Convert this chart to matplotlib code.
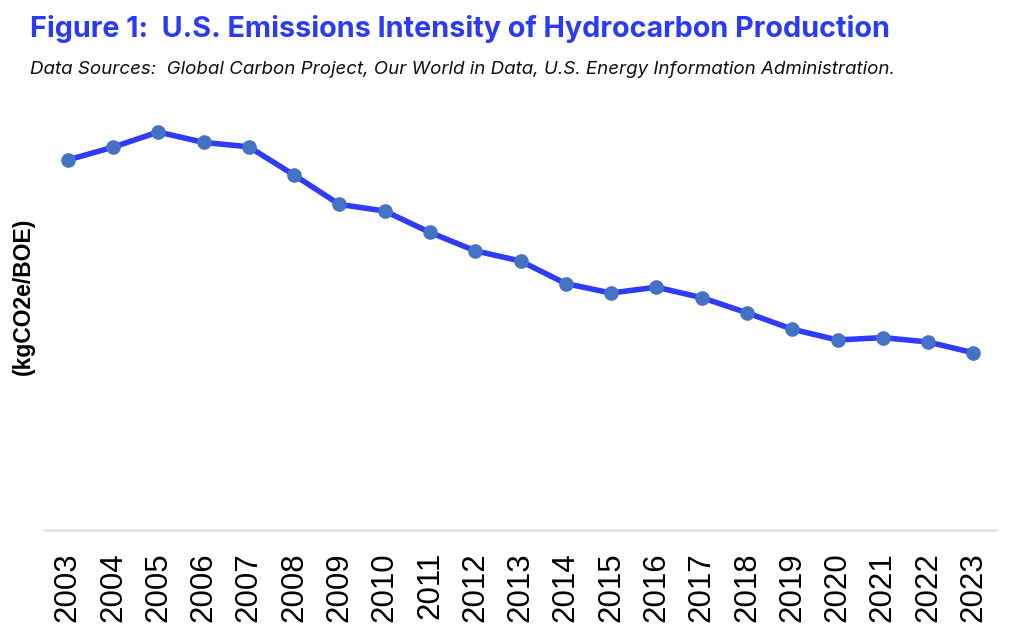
import matplotlib
matplotlib.use("Agg")
import matplotlib.pyplot as plt

years = ["2003", "2004", "2005", "2006", "2007", "2008", "2009", "2010", "2011", "2012",
         "2013", "2014", "2015", "2016", "2017", "2018", "2019", "2020", "2021", "2022", "2023"]
intensity = [92.5, 95.7, 99.5, 96.9, 95.8, 88.75, 81.4, 79.75, 74.4, 69.8,
             67.25, 61.6, 59.25, 60.7, 58.1, 54.3, 50.2, 47.5, 48.1, 47.0, 44.3]

title = "Figure 1:  U.S. Emissions Intensity of Hydrocarbon Production"
subtitle = "Data Sources:  Global Carbon Project, Our World in Data, U.S. Energy Information Administration."
ylabel = "(kgCO2e/BOE)"

W, H = 1024, 641
fig = plt.figure(figsize=(W / 100, H / 100), dpi=100)
ax = fig.add_axes([45 / W, (H - 530) / H, (996 - 45) / W, (530 - 110) / H])

x = list(range(len(years)))
ax.plot(x, intensity, color="#2E3CF8", linewidth=4.0, solid_capstyle="round",
        marker="o", markersize=9.5, markerfacecolor="#4472C4", markeredgecolor="#4472C4",
        zorder=3)

ax.set_xlim(-0.5, len(years) - 0.5)
ax.set_ylim(0, 105)
ax.set_xticks(x)
ax.set_xticklabels(years, rotation=90, fontsize=22.5, family="Liberation Sans")
ax.tick_params(axis="x", length=0, pad=16)
ax.set_yticks([])
for s in ["top", "right", "left"]:
    ax.spines[s].set_visible(False)
ax.spines["bottom"].set_color("#E3E3E3")
ax.spines["bottom"].set_linewidth(2)

fig.text(30 / W, 1 - 29 / H, title, color="#2B3BF5", fontsize=20.7, fontweight="bold",
         family="Inter", va="center", ha="left")
fig.text(30 / W, 1 - 70 / H, subtitle, color="#111111", fontsize=13.5, style="italic",
         family="Inter", va="center", ha="left")
fig.text(23 / W, 1 - 296 / H, ylabel, rotation=90, fontsize=16.5, fontweight="bold",
         family=["Liberation Sans", "DejaVu Sans"], va="center", ha="center")

fig.savefig("out.png", dpi=100, facecolor="white")
